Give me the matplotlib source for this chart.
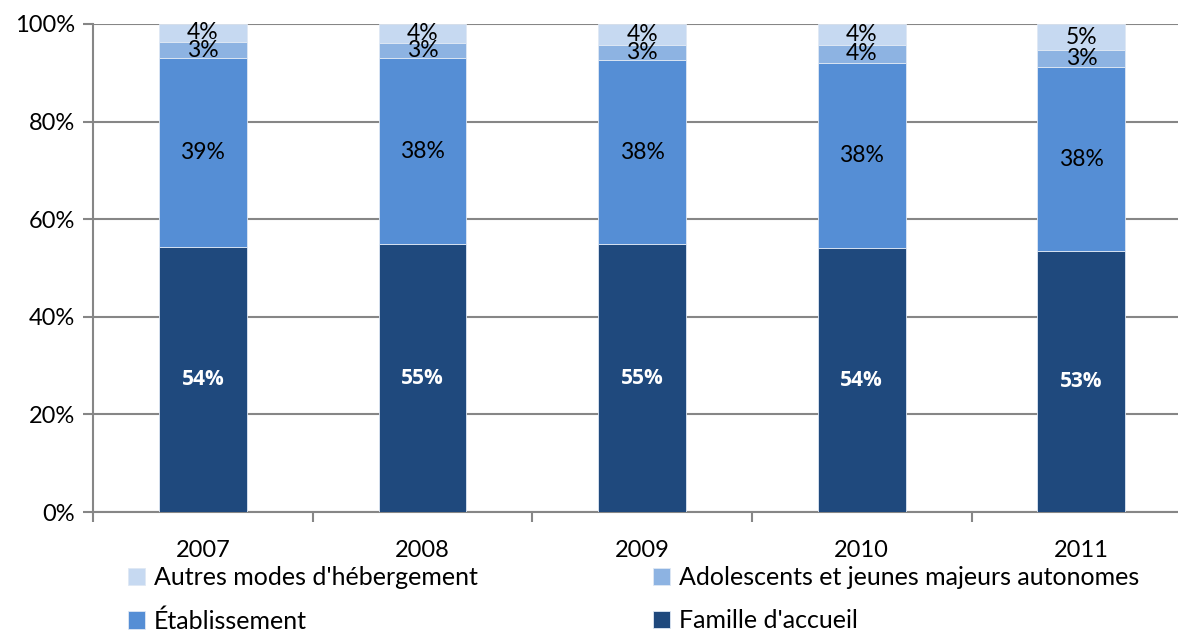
import matplotlib
matplotlib.use("Agg")
import matplotlib.pyplot as plt
import numpy as np

plt.rcParams['font.family'] = ['Lato', 'DejaVu Sans']

years = ['2007', '2008', '2009', '2010', '2011']
famille = [54.4, 54.9, 54.9, 54.1, 53.4]
etablissement = [38.6, 38.1, 37.7, 37.9, 37.8]
adolescents = [3.3, 3.1, 3.1, 3.7, 3.4]
autres = [3.7, 3.9, 4.3, 4.3, 5.4]

series = [
    ("Famille d'accueil", famille, '#1F497D', 'white', 'bold'),
    ("Établissement", etablissement, '#558ED5', 'black', 'normal'),
    ("Adolescents et jeunes majeurs autonomes", adolescents, '#8DB3E2', 'black', 'normal'),
    ("Autres modes d'hébergement", autres, '#C6D9F1', 'black', 'normal'),
]

fig = plt.figure(figsize=(11.78, 6.34), dpi=100)
ax = fig.add_axes([0.079, 0.1924, 0.921, 0.7698])

x = np.arange(len(years))
bottom = np.zeros(len(years))
bars = {}
for name, vals, col, tcol, tw in series:
    vals = np.array(vals)
    b = ax.bar(x, vals, 0.40, bottom=bottom, color=col, edgecolor='#dfe8f4',
               linewidth=0.6, label=name, zorder=3)
    bars[name] = b
    fam = ['Open Sans', 'DejaVu Sans'] if tw == 'bold' else ['Lato', 'DejaVu Sans']
    fs = 15 if tw == 'bold' else 16.5
    for xi, v, b0 in zip(x, vals, bottom):
        ax.text(xi, b0 + v / 2, f"{v:.0f}%", ha='center', va='center',
                color=tcol, fontweight=tw, fontsize=fs, family=fam, zorder=4)
    bottom += vals

ax.set_xlim(-0.5, 4.44)
ax.set_ylim(0, 100)
ax.set_yticks(range(0, 101, 20))
ax.set_yticklabels([f"{t}%" for t in range(0, 101, 20)], fontsize=17)
ax.yaxis.grid(True, color='#868686', linewidth=1.5, zorder=0)

ax.set_xticks(np.arange(-0.5, 4.0, 1.0))
ax.set_xticklabels([])
ax.set_xticks(x, minor=True)
ax.set_xticklabels(years, minor=True, fontsize=17)
ax.tick_params(axis='x', which='major', length=7, width=1.5, color='#868686', direction='out')
ax.tick_params(axis='x', which='minor', length=0, pad=20)
ax.tick_params(axis='y', length=7, width=1.5, color='#868686', direction='out', pad=6)

for s in ['top', 'right']:
    ax.spines[s].set_visible(False)
for s in ['left', 'bottom']:
    ax.spines[s].set_color('#868686')
    ax.spines[s].set_linewidth(1.5)

order = ["Autres modes d'hébergement", "Établissement",
         "Adolescents et jeunes majeurs autonomes", "Famille d'accueil"]
handles = [bars[n] for n in order]
fig.legend(handles, order, ncol=2, loc='upper left', bbox_to_anchor=(0.1, 0.123),
           frameon=False, fontsize=18, handlelength=0.7, handleheight=0.7,
           handletextpad=0.35, columnspacing=7.0, labelspacing=0.8, borderaxespad=0)

fig.savefig('out.png', dpi=100)
